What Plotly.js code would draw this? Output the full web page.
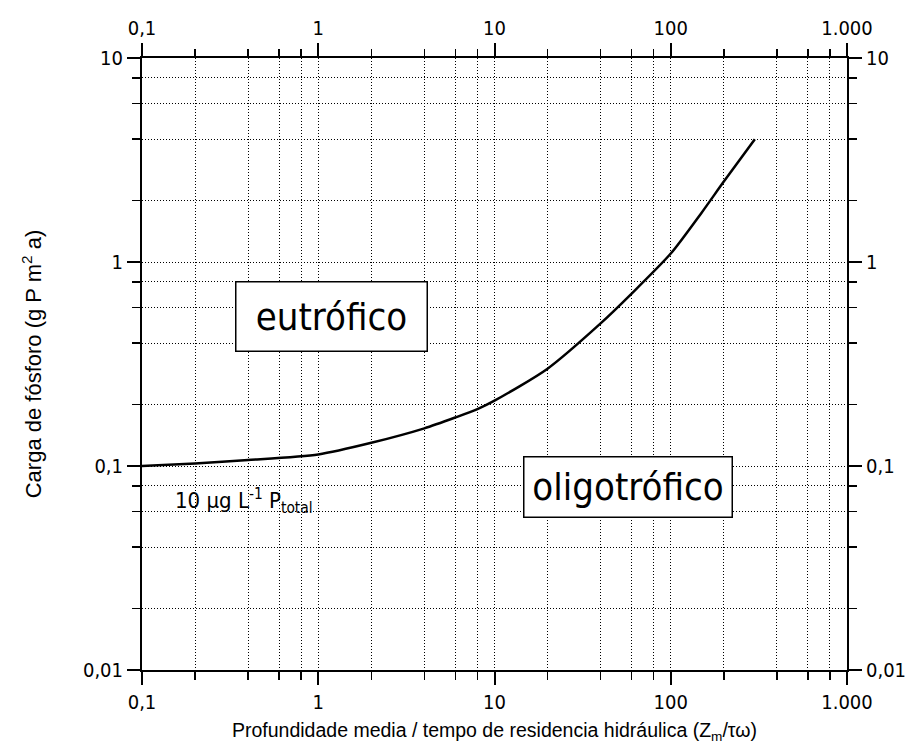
<!DOCTYPE html>
<html>
<head>
<meta charset="utf-8">
<script src="https://cdn.plot.ly/plotly-3.0.1.min.js"></script>
<style>html,body{margin:0;padding:0;background:#fff;}#chart{width:922px;height:745px;}</style>
</head>
<body>
<div id="chart"></div>
<script>
// Curve values
const depthOverTime = [0.1, 0.2, 0.4, 1, 2, 4, 6, 8, 10, 20, 40, 60, 100, 150, 200, 300];
const phosphorusLoad = [0.100, 0.103, 0.107, 0.114, 0.130, 0.153, 0.173, 0.190, 0.209, 0.30, 0.50, 0.70, 1.10, 1.75, 2.48, 4.0];

// Tick labels
const xTickVals = [0.1, 1, 10, 100, 1000];
const xTickText = ['0,1', '1', '10', '100', '1.000'];
const xMinorVals = [0.2, 0.4, 0.6, 0.8, 2, 4, 6, 8, 20, 40, 60, 80, 200, 400, 600, 800];
const yTickVals = [0.01, 0.1, 1, 10];
const yTickText = ['0,01', '0,1', '1', '10'];
const yMinorVals = [0.02, 0.04, 0.06, 0.08, 0.2, 0.4, 0.6, 0.8, 2, 4, 6, 8];

const xTitle = 'Profundidade media / tempo de residencia hidráulica (Z<sub>m</sub>/τω)';
const yTitle = 'Carga de fósforo (g P m<sup>2</sup> a)';
const regionLabels = ['eutrófico', 'oligotrófico'];
const curveLabel = '10 µg L<sup>-1</sup> P<sub>total</sub>';

const condensed = 'DejaVu Sans Condensed, DejaVu Sans, sans-serif';
const tickFont = {family: condensed, size: 20, color: '#000'};
const labelFont = {family: condensed, size: 38, color: '#000'};
const dotDash = '1px,2px';

function axisBase(extra) {
  return Object.assign({
    type: 'log',
    showline: true, linewidth: 2, linecolor: '#000',
    ticks: 'outside', ticklen: 13, tickwidth: 2, tickcolor: '#000',
    tickfont: tickFont, tickmode: 'array',
    zeroline: false, fixedrange: true
  }, extra);
}

const traces = [
  {x: depthOverTime, y: phosphorusLoad, type: 'scatter', mode: 'lines',
   line: {color: '#000', width: 2.5, shape: 'spline', smoothing: 0.7}, xaxis: 'x', yaxis: 'y', showlegend: false, hoverinfo: 'skip'},
  {x: depthOverTime, y: phosphorusLoad, type: 'scatter', mode: 'lines',
   line: {color: 'rgba(0,0,0,0)', width: 0}, xaxis: 'x2', yaxis: 'y2', showlegend: false, hoverinfo: 'skip'}
];

const gridMinor = (vals) => ({tickvals: vals, ticks: 'outside', ticklen: 8, tickwidth: 1.5, tickcolor: '#000',
  showgrid: true, gridcolor: '#000', gridwidth: 1, griddash: dotDash});

const layout = {
  width: 922, height: 745,
  margin: {l: 142, r: 75, t: 58, b: 75},
  paper_bgcolor: '#fff', plot_bgcolor: '#fff',
  showlegend: false,
  xaxis: axisBase({range: [-1, 3], tickvals: xTickVals, ticktext: xTickText,
    showgrid: true, gridcolor: '#000', gridwidth: 1, griddash: dotDash,
    minor: gridMinor(xMinorVals),
    title: {text: xTitle, font: {family: 'Liberation Sans Narrow, Liberation Sans, Arial, sans-serif', size: 19.5, color: '#000'}, standoff: 10}}),
  yaxis: axisBase({range: [-2, 1], tickvals: yTickVals, ticktext: yTickText,
    showgrid: true, gridcolor: '#000', gridwidth: 1, griddash: dotDash,
    minor: gridMinor(yMinorVals),
    title: {text: yTitle, font: {family: 'Liberation Sans, Arial, sans-serif', size: 22, color: '#000'}, standoff: 35}}),
  xaxis2: axisBase({range: [-1, 3], overlaying: 'x', side: 'top', anchor: 'y2', tickvals: xTickVals, ticktext: xTickText,
    showgrid: false, minor: {tickvals: xMinorVals, ticks: 'outside', ticklen: 7, tickwidth: 1.5, tickcolor: '#000', showgrid: false}}),
  yaxis2: axisBase({range: [-2, 1], overlaying: 'y', side: 'right', anchor: 'x2', tickvals: yTickVals, ticktext: yTickText,
    showgrid: false, minor: {tickvals: yMinorVals, ticks: 'outside', ticklen: 8, tickwidth: 1.5, tickcolor: '#000', showgrid: false}}),
  annotations: [
    {xref: 'paper', yref: 'paper', x: 0.2688, y: 0.5784, text: regionLabels[0], showarrow: false,
     font: labelFont, bgcolor: '#fff', bordercolor: '#000', borderwidth: 1.5, borderpad: 0,
     width: 190, height: 68, xanchor: 'center', yanchor: 'middle'},
    {xref: 'paper', yref: 'paper', x: 0.6894, y: 0.299, text: regionLabels[1], showarrow: false,
     font: labelFont, bgcolor: '#fff', bordercolor: '#000', borderwidth: 1.5, borderpad: 0,
     width: 207, height: 59, xanchor: 'center', yanchor: 'middle'},
    {xref: 'paper', yref: 'paper', x: 0.044, y: 0.276, text: curveLabel, showarrow: false,
     font: {family: condensed, size: 22, color: '#000'},
     xanchor: 'left', yanchor: 'middle'}
  ]
};

Plotly.newPlot('chart', traces, layout, {staticPlot: true, displayModeBar: false});
</script>
</body>
</html>
